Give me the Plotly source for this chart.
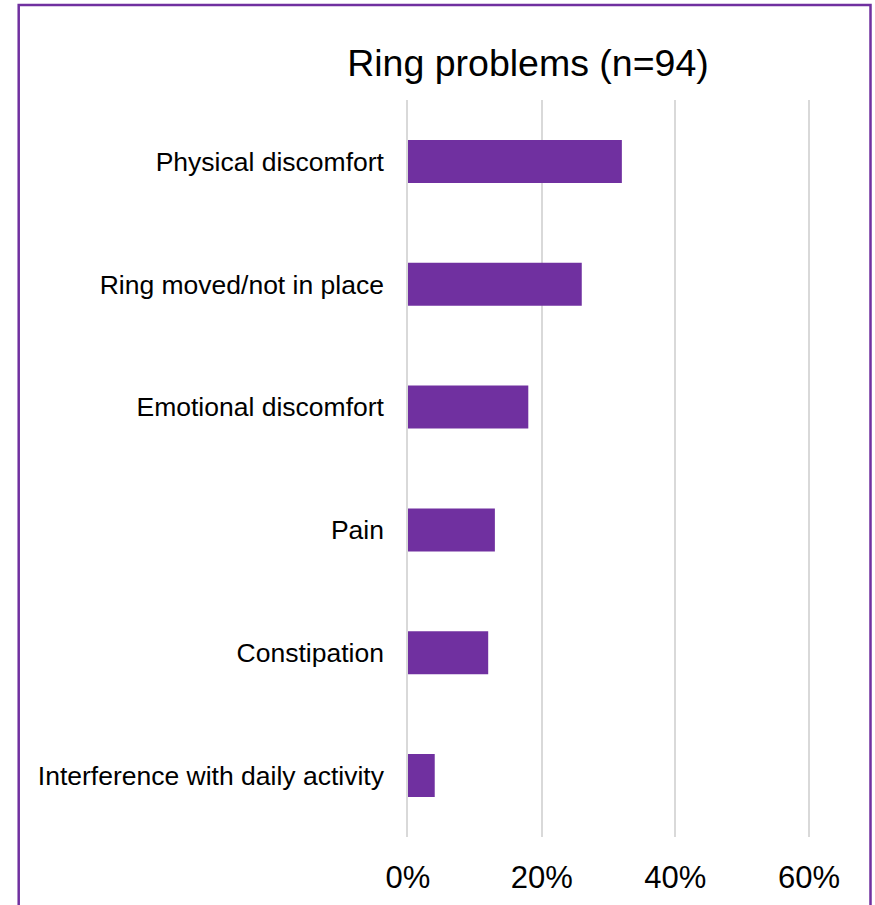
import plotly.graph_objects as go

# Reported ring problems, share of respondents (%)
problems = [
    "Physical discomfort",
    "Ring moved/not in place",
    "Emotional discomfort",
    "Pain",
    "Constipation",
    "Interference with daily activity",
]
shares = [32, 26, 18, 13, 12, 4]
x_ticks = [0, 20, 40, 60]
x_tick_labels = ["0%", "20%", "40%", "60%"]
chart_title = "Ring problems (n=94)"

PURPLE = "#7030A0"
GRID = "#D9D9D9"
FONT = "Liberation Sans, Arial, sans-serif"

W, H = 875, 905
L, R, T, B = 408, 64, 100, 68
X_MAX = 60.3
pw, ph = W - L - R, H - T - B


def px_x(x):
    return (x - L) / pw


def px_y(y):
    return (H - B - y) / ph


fig = go.Figure(
    go.Bar(
        x=shares,
        y=problems,
        orientation="h",
        marker=dict(color=PURPLE, line=dict(width=0)),
        hoverinfo="skip",
    )
)

fig.update_layout(
    width=W,
    height=H,
    margin=dict(l=L, r=R, t=T, b=B, pad=0, autoexpand=False),
    paper_bgcolor="white",
    plot_bgcolor="white",
    bargap=0.65,
    showlegend=False,
    font=dict(family=FONT, color="#000000"),
    title=dict(
        text=chart_title,
        x=528 / W,
        xanchor="center",
        y=1 - 63 / H,
        yanchor="middle",
        font=dict(size=37.5, family=FONT, color="#000000"),
    ),
    shapes=[
        # purple frame around the chart (bottom edge runs off the page)
        dict(
            type="rect",
            xref="paper",
            yref="paper",
            x0=px_x(18.7),
            x1=px_x(870.5),
            y0=px_y(930),
            y1=px_y(5),
            line=dict(color=PURPLE, width=2.5),
            fillcolor="rgba(0,0,0,0)",
            layer="above",
        )
    ],
)

fig.update_xaxes(
    range=[0, X_MAX],
    tickvals=x_ticks,
    ticktext=x_tick_labels,
    showgrid=True,
    gridcolor=GRID,
    gridwidth=1.5,
    zeroline=False,
    showline=False,
    ticks="outside",
    ticklen=13,
    tickcolor="rgba(0,0,0,0)",
    tickfont=dict(size=31, family=FONT, color="#000000"),
    automargin=False,
    fixedrange=True,
)

fig.update_yaxes(
    autorange="reversed",
    showgrid=False,
    zeroline=False,
    showline=True,
    linecolor=GRID,
    linewidth=1.5,
    ticks="outside",
    ticklen=17,
    tickcolor="rgba(0,0,0,0)",
    tickfont=dict(size=26.5, family=FONT, color="#000000"),
    automargin=False,
    fixedrange=True,
)

fig.write_html("out.html", config={"displayModeBar": False})
